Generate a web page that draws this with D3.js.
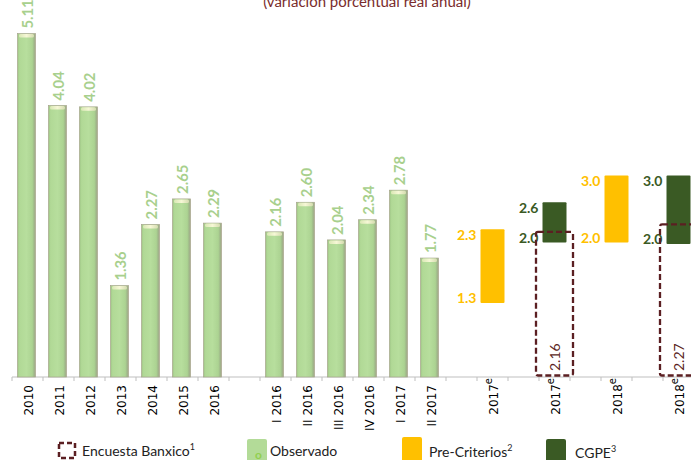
<!DOCTYPE html>
<html>
<head>
<meta charset="utf-8">
<script src="https://cdn.jsdelivr.net/npm/d3@7"></script>
<style>
  html, body { margin: 0; padding: 0; background: #fff; }
  svg { display: block; }
</style>
</head>
<body>
<div id="chart"></div>
<script>
// ---------------- DATA ----------------
const categories = ["2010","2011","2012","2013","2014","2015","2016","",
  "I 2016","II 2016","III 2016","IV 2016","I 2017","II 2017","",
  "2017e","","2017e","","2018e","","2018e"];
const observedCats = ["2010","2011","2012","2013","2014","2015","2016",
  "I 2016","II 2016","III 2016","IV 2016","I 2017","II 2017"];
const observedIdx = [0,1,2,3,4,5,6,8,9,10,11,12,13];
const observedValues = [5.11,4.04,4.02,1.36,2.27,2.65,2.29,2.16,2.60,2.04,2.34,2.78,1.77];

// Pre-Criterios ranges (bar extents, labels as printed)
const preIdx = [15, 19];
const preLow = [1.1, 2.0];
const preHigh = [2.2, 3.0];
const preLowLabel = ["1.3", "2.0"];
const preHighLabel = ["2.3", "3.0"];

// CGPE ranges
const cgpeIdx = [17, 21];
const cgpeLow = [2.0, 1.98];
const cgpeHigh = [2.6, 3.0];
const cgpeLowLabel = ["2.0", "2.0"];
const cgpeHighLabel = ["2.6", "3.0"];

// Encuesta Banxico
const banxicoIdx = [17, 21];
const banxicoValues = [2.16, 2.27];

const legendItems = [
  {key: "banxico", label: "Encuesta Banxico", sup: "1"},
  {key: "obs", label: "Observado", sup: ""},
  {key: "pre", label: "Pre-Criterios", sup: "2"},
  {key: "cgpe", label: "CGPE", sup: "3"}
];
const title = "(variación porcentual real anual)";

// ---------------- STYLE ----------------
const W = 691, H = 460;
const C_OBS = "#b3db98", C_OBS_LBL = "#a8d08d", C_PRE = "#ffc000",
      C_CGPE = "#3a5a24", C_BAN = "#5b1f22";
const base = 377;

const svg = d3.select("#chart").append("svg").attr("width", W).attr("height", H);
const defs = svg.append("defs");
const g1 = defs.append("linearGradient").attr("id","obsGrad").attr("x1","0").attr("x2","1").attr("y1","0").attr("y2","0");
[["0%","#9fc686"],["12%","#b1d996"],["50%","#b7de9d"],["82%","#acd392"],["92%","#9fb889"],["100%","#a9a58e"]]
  .forEach(s => g1.append("stop").attr("offset", s[0]).attr("stop-color", s[1]));
const g2 = defs.append("linearGradient").attr("id","capGrad").attr("x1","0").attr("x2","1").attr("y1","0").attr("y2","0");
[["0%","#d9e8b4"],["50%","#f6f7d6"],["100%","#d5dcb0"]]
  .forEach(s => g2.append("stop").attr("offset", s[0]).attr("stop-color", s[1]));

const x = d3.scaleBand().domain(d3.range(categories.length)).range([12, 12 + 31 * categories.length]).padding(0);
const y = d3.scaleLinear().domain([0, 5.6]).range([base, base - 5.6 * 67.2]);
const cx = i => x(i) + x.bandwidth() / 2;

// Title
svg.append("text").attr("x", 367).attr("y", 7).attr("text-anchor", "middle")
  .attr("font-family", "Lato, 'Open Sans', sans-serif").attr("font-size", 15)
  .attr("fill", "#7a2c2c").text(title);

// Axis
const axis = d3.axisBottom(x).tickSize(0).tickFormat("");
const ax = svg.append("g").attr("transform", `translate(0,${base})`).call(axis);
ax.select(".domain").attr("stroke", "#bfbfbf").attr("d", `M12,0H${W}`);
svg.append("g").selectAll("line").data(d3.range(categories.length + 1)).join("line")
  .attr("x1", i => 12 + i * x.step()).attr("x2", i => 12 + i * x.step())
  .attr("y1", base).attr("y2", base + 4).attr("stroke", "#bfbfbf");

// Tick labels
const tl = svg.append("g").attr("font-family", "'DejaVu Sans', sans-serif").attr("font-size", 12).attr("fill", "#000");
categories.forEach((c, i) => {
  if (!c) return;
  const isE = c.endsWith("e");
  const t = tl.append("text")
    .attr("transform", `translate(${cx(i) + 5},${isE ? 378 : 385}) rotate(-90)`)
    .attr("text-anchor", "end");
  if (isE) {
    t.append("tspan").text(c.slice(0, -1));
    t.append("tspan").attr("font-size", 10).attr("dy", -6).text("e");
  } else t.text(c);
});

// Observed bars
const bw = 18;
const obs = svg.append("g");
obs.selectAll("rect.bar").data(observedValues).join("rect").attr("class","bar")
  .attr("x", (d, i) => cx(observedIdx[i]) - 1 - bw / 2)
  .attr("y", d => y(d)).attr("width", bw).attr("height", d => base - y(d))
  .attr("fill", "url(#obsGrad)").attr("stroke", "#a7a58c").attr("stroke-width", 0.7);
obs.selectAll("rect.cap").data(observedValues).join("rect").attr("class","cap")
  .attr("x", (d, i) => cx(observedIdx[i]) - 1 - bw / 2 + 1.5)
  .attr("y", d => y(d) + 0.5).attr("width", bw - 3).attr("height", 3.5)
  .attr("rx", 1.5).attr("fill", "url(#capGrad)");
obs.selectAll("text").data(observedValues).join("text")
  .attr("transform", (d, i) => `translate(${cx(observedIdx[i]) + 5.5},${y(d) - 5}) rotate(-90)`)
  .attr("font-family", "Lato, sans-serif").attr("font-weight", "bold").attr("font-size", 14.8)
  .attr("fill", C_OBS_LBL).text(d => d.toFixed(2));

// Range bars
const fw = 24;
function rangeBars(idx, low, high, lowL, highL, color) {
  const gg = svg.append("g");
  gg.selectAll("rect").data(idx).join("rect")
    .attr("x", (d) => cx(d) - fw / 2).attr("y", (d, i) => y(high[i]))
    .attr("width", fw).attr("height", (d, i) => y(low[i]) - y(high[i]))
    .attr("rx", 1).attr("fill", color);
  const lab = gg.append("g").attr("font-family", "Lato, sans-serif").attr("font-weight", "bold")
    .attr("font-size", 14).attr("fill", color).attr("text-anchor", "end");
  idx.forEach((d, i) => {
    lab.append("text").attr("x", cx(d) - fw / 2 - 4).attr("y", y(high[i]) + 6).attr("dy", "0.35em").text(highL[i]);
    lab.append("text").attr("x", cx(d) - fw / 2 - 4).attr("y", y(low[i]) - 5).attr("dy", "0.35em").text(lowL[i]);
  });
}
rangeBars(preIdx, preLow, preHigh, preLowLabel, preHighLabel, C_PRE);
rangeBars(cgpeIdx, cgpeLow, cgpeHigh, cgpeLowLabel, cgpeHighLabel, C_CGPE);

// Banxico dashed boxes
const bxw = 37;
const bx = svg.append("g");
bx.selectAll("rect").data(banxicoValues).join("rect")
  .attr("x", (d, i) => cx(banxicoIdx[i]) - bxw / 2).attr("y", d => y(d))
  .attr("width", bxw).attr("height", d => base - 1.5 - y(d))
  .attr("rx", 2).attr("fill", "none").attr("stroke", C_BAN)
  .attr("stroke-width", 2.3).attr("stroke-dasharray", "6,3");
bx.selectAll("text").data(banxicoValues).join("text")
  .attr("transform", (d, i) => `translate(${cx(banxicoIdx[i]) + 5},${base - 6}) rotate(-90)`)
  .attr("font-family", "Lato, sans-serif").attr("font-size", 14).attr("fill", C_BAN)
  .text(d => d.toFixed(2));

// Legend
const lg = svg.append("g").attr("font-family", "Lato, sans-serif").attr("font-size", 14).attr("fill", "#222");
const legPos = {banxico: [58, 82, 456], obs: [247, 270, 456], pre: [402, 429, 457], cgpe: [546, 575, 458]};
legendItems.forEach(it => {
  const [ix, tx, ty] = legPos[it.key];
  if (it.key === "banxico") {
    lg.append("rect").attr("x", ix + 1).attr("y", 443).attr("width", 16).attr("height", 15)
      .attr("fill", "none").attr("stroke", C_BAN).attr("stroke-width", 2.5).attr("stroke-dasharray", "5,3");
  } else if (it.key === "obs") {
    lg.append("rect").attr("x", ix).attr("y", 439).attr("width", 20).attr("height", 24).attr("rx", 2).attr("fill", C_OBS);
    lg.append("text").attr("x", ix + 8).attr("y", 459).attr("font-size", 12).attr("font-weight", "bold")
      .attr("fill", "#92d050").text("o");
  } else {
    lg.append("rect").attr("x", ix).attr("y", it.key === "pre" ? 437 : 439).attr("width", 20).attr("height", 26)
      .attr("rx", 2).attr("fill", it.key === "pre" ? C_PRE : C_CGPE);
  }
  const t = lg.append("text").attr("x", tx).attr("y", ty);
  t.append("tspan").text(it.label);
  if (it.sup) t.append("tspan").attr("font-size", 9).attr("dy", -6).text(it.sup);
});
</script>
</body>
</html>
